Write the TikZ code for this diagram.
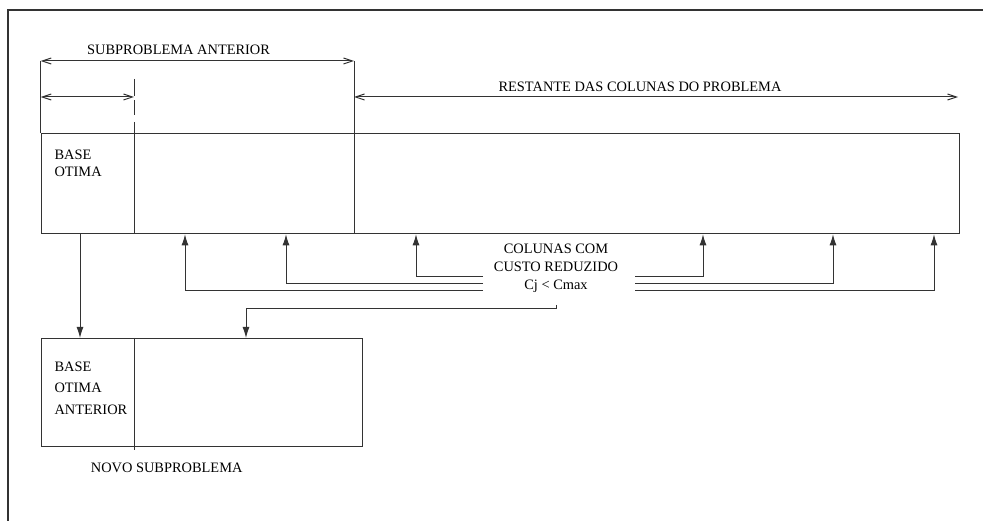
\documentclass[tikz,border=0pt]{standalone}
\usepackage{fontspec}
\setmainfont{Liberation Serif}
\usetikzlibrary{arrows.meta}
\begin{document}
\begin{tikzpicture}[x=1pt,y=-1pt,
  ln/.style={line width=1pt, draw=black!80},
  dimarrow/.style={ln, {Straight Barb[length=9pt,width=6pt]}-{Straight Barb[length=9pt,width=6pt]}},
  uparrow/.style={ln, -{Latex[length=11pt,width=7pt]}},
  lbl/.style={font=\fontsize{14.4}{17.7}\selectfont, inner sep=0pt, text=black},
  lblwide/.style={font=\fontsize{14.4}{21.3}\selectfont, inner sep=0pt, text=black},
  box/.style={ln, draw, inner sep=0pt, anchor=north west}]
\useasboundingbox (0,0) rectangle (983,521);
% frame
\draw[line width=1.5pt, black!80] (8,521) -- (8,10) -- (983,10);
% boxes
\node[box, minimum width=918.3pt, minimum height=100.3pt] (prob) at (40.7,133) {};
\node[box, minimum width=321pt, minimum height=108pt] (nsub) at (40.7,338) {};
% dimension coordinates
\coordinate (sL) at (40.7,61);
\coordinate (sR) at (354,61);
\coordinate (bL) at (40.7,97);
\coordinate (bR) at (134,97);
\coordinate (rL) at (354,97);
\coordinate (rR) at (958,97);
\coordinate (dT) at (134,79);
% extension lines
\draw[ln] (sL) -- (prob.north west);
\draw[ln] (sR) -- ([xshift=313.3pt]prob.south west);
\draw[ln, dash pattern=on 17pt off 4pt on 15pt off 7pt] (dT) -- ([xshift=93.3pt]prob.north west);
\draw[ln] ([xshift=93.3pt]prob.north west) -- ([xshift=93.3pt]prob.south west);
\draw[ln] ([xshift=93.3pt]nsub.north west) -- ([xshift=93.3pt,yshift=-3pt]nsub.south west);
% dimension arrows
\draw[dimarrow] (sL) -- (sR);
\draw[dimarrow] (bL) -- (bR);
\draw[dimarrow] (rL) -- (rR);
% labels
\node[lbl, anchor=north] (tsub) at (178.6,45) {SUBPROBLEMA ANTERIOR};
\node[lbl, anchor=north] (trest) at (640,81.7) {RESTANTE DAS COLUNAS DO PROBLEMA};
\node[lbl, anchor=north west, align=left] (tbase) at (54.3,149.3) {BASE\\OTIMA};
\node[lblwide, anchor=north west, align=left] (tbase2) at (54.3,361.7) {BASE\\OTIMA\\ANTERIOR};
\node[lbl, anchor=north] (tnovo) at (166.7,462.7) {NOVO SUBPROBLEMA};
\node[lbl, anchor=north, align=center] (tcol) at (556,244) {COLUNAS COM\\CUSTO REDUZIDO\\Cj < Cmax};
% down arrow from base
\draw[uparrow] ([xshift=39.3pt]prob.south west) -- ([xshift=39.3pt]nsub.north west);
% column arrows
\coordinate (cL1) at (483,277);
\coordinate (cL2) at (483,284);
\coordinate (cL3) at (483,291);
\coordinate (cR1) at (635,277);
\coordinate (cR2) at (635,284);
\coordinate (cR3) at (635,291);
\draw[uparrow] (cL1) -| ([xshift=375.3pt]prob.south west);
\draw[uparrow] (cL2) -| ([xshift=245.3pt]prob.south west);
\draw[uparrow] (cL3) -| ([xshift=144.3pt]prob.south west);
\draw[uparrow] (cR1) -| ([xshift=662.3pt]prob.south west);
\draw[uparrow] (cR2) -| ([xshift=792.3pt]prob.south west);
\draw[uparrow] (cR3) -| ([xshift=893.3pt]prob.south west);
% to new subproblem
\coordinate (cj0) at (556,305);
\draw[uparrow] (cj0) -- ++(0,4) -| ([xshift=205.3pt]nsub.north west);
\end{tikzpicture}
\end{document}
